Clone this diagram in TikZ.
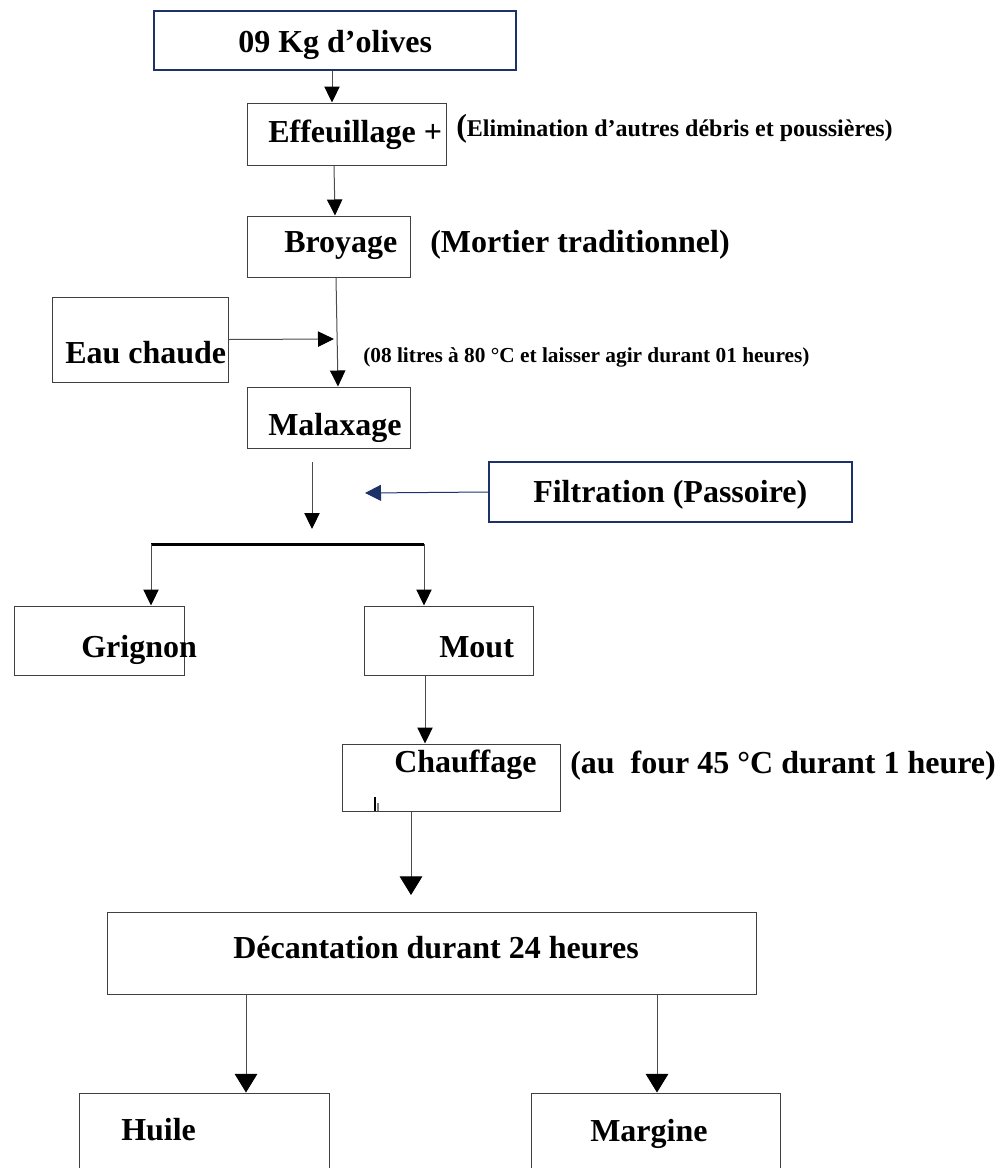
\documentclass[tikz,border=0pt]{standalone}
\usepackage{fontspec}
\setmainfont{Liberation Serif}
\usetikzlibrary{arrows.meta,calc,positioning}
\definecolor{navy}{RGB}{28,50,105}
\tikzset{
        box/.style={draw=black!75,line width=0.75pt,inner sep=0pt},
        bluebox/.style={draw=navy,line width=1.5pt,inner sep=0pt},
        lbl/.style={anchor=base west,inner sep=0pt,font=\bfseries\fontsize{24}{28}\selectfont},
        note/.style={anchor=base west,inner sep=0pt,font=\bfseries\fontsize{18}{21}\selectfont},
        flow/.style={draw=black!70,line width=0.75pt,-{Triangle[width=11.5pt,length=12pt,color=black]}},
        bigflow/.style={draw=black!70,line width=0.75pt,-{Triangle[width=17pt,length=14pt,color=black]}},
        blueflow/.style={draw=navy,line width=0.75pt,-{Triangle[width=12pt,length=12pt,color=navy]}}
    }

\begin{document}
\begin{tikzpicture}[x=0.75pt,y=-0.75pt]
                \useasboundingbox (0,0) rectangle (1007,1168);
                \clip (0,0) rectangle (1007,1168);
                % boxes
                \node[bluebox,minimum width=271.5pt,minimum height=44.25pt] (olives) at (335,40.5) {};
                \node[box,minimum width=149.25pt,minimum height=46.5pt] (effeuil) at (346.5,134) {};
                \node[box,minimum width=122.25pt,minimum height=45.75pt] (broyage) at (328.5,246.5) {};
                \node[box,minimum width=132pt,minimum height=63.75pt] (eau) at (140,339.5) {};
                \node[box,minimum width=122.25pt,minimum height=45.75pt] (malax) at (328.5,417.5) {};
                \node[bluebox,minimum width=272.25pt,minimum height=45pt] (filtr) at (670.5,492) {};
                \node[box,minimum width=127.5pt,minimum height=51.75pt] (grignon) at (99,640.5) {};
                \node[box,minimum width=126.75pt,minimum height=51.75pt] (mout) at (448.5,640.5) {};
                \node[box,minimum width=163.5pt,minimum height=50.25pt] (chauff) at (451,777.5) {};
                \node[box,minimum width=486.75pt,minimum height=61.5pt] (decant) at (431.5,953) {};
                \node[box,minimum width=187.5pt,minimum height=117.75pt] (huile) at (204,1171.5) {};
                \node[box,minimum width=186.75pt,minimum height=117.75pt] (margine) at (655.5,1171.5) {};
                % texts
                \node[lbl] (t-olives) at (238,52) {09 Kg d’olives};
                \node[lbl] (t-effeuil) at (268,142) {Effeuillage +};
                \node[note] (n-effeuil) at (456,136) {{\fontsize{24}{28}\selectfont(}Elimination d’autres débris et poussières)};
                \node[lbl] (t-broyage) at (284,252) {Broyage};
                \node[lbl] (n-broyage) at (430,252) {(Mortier traditionnel)};
                \node[lbl] (t-eau) at (65,363) {Eau chaude};
                \node[note,font=\bfseries\fontsize{16}{19}\selectfont] (n-eau) at (363,362) {(08 litres à 80 °C et laisser agir durant 01 heures)};
                \node[lbl] (t-malax) at (268,435) {Malaxage};
                \node[lbl] (t-filtr) at (533,502) {Filtration (Passoire)};
                \node[lbl] (t-grignon) at (81,657) {Grignon};
                \node[lbl] (t-mout) at (439,657) {Mout};
                \node[lbl] (t-chauff) at (394,772) {Chauffage};
                \node[lbl] (n-chauff) at (570,773) {(au\ \ four 45 °C durant 1 heure)};
                \node[lbl] (t-decant) at (233,958) {Décantation durant 24 heures};
                \node[lbl] (t-huile) at (121,1140) {Huile};
                \node[lbl] (t-margine) at (590,1141) {Margine};
                % free ends
                \coordinate (join) at (334,339);
                \coordinate (sortie) at (312,462);
                \coordinate (entree) at (312,529);
                \coordinate (filtre) at (365,493);
                \coordinate (barL) at (151,544);
                \coordinate (barR) at (424,544);
                \coordinate (versdecant) at (411,895);
                \draw[line width=2.25pt] (barL) -- (barR);
                \draw[line width=1.2pt] (375,797) -- (375,811);
                \draw[gray,line width=1pt] (378,803) -- (378,811);
            \path[every edge/.style={flow}]
                    ($(olives.south)+(-3,0)$) edge ($(effeuil.north)+(-14.5,0)$)
                    ($(effeuil.south)+(-12.5,0)$) edge ($(broyage.north)+(6.5,0)$)
                    ($(broyage.south)+(7.5,0)$) edge ($(malax.north)+(9.5,0)$)
                    (eau.east) edge (join)
                    (sortie) edge (entree)
                    (barL) edge (barL |- grignon.north)
                    (barR) edge (barR |- mout.north)
                    ($(mout.south)+(-23.5,0)$) edge ($(chauff.north)+(-26,0)$);
            \path[every edge/.style={blueflow}]
                    (filtr.west) edge (filtre);
            \path[every edge/.style={bigflow}]
                    ($(chauff.south)+(-40,0)$) edge (versdecant)
                    ($(decant.south)+(-185.5,0)$) edge ($(huile.north)+(42,0)$)
                    ($(decant.south)+(225.5,0)$) edge ($(margine.north)+(1.5,0)$);
\end{tikzpicture}
\end{document}
